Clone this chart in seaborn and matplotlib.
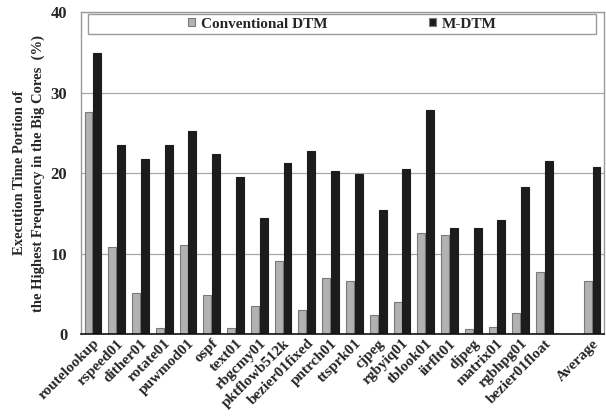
import matplotlib
matplotlib.use("Agg")
import matplotlib.pyplot as plt
from matplotlib.patches import Rectangle
import seaborn as sns
import pandas as pd

benchmarks = ["routelookup", "rspeed01", "dither01", "rotate01", "puwmod01", "ospf",
              "text01", "rbgcmy01", "pktflowb512k", "bezier01fixed", "pntrch01",
              "ttsprk01", "cjpeg", "rgbyiq01", "tblook01", "iirflt01", "djpeg",
              "matrix01", "rgbhpg01", "bezier01float", "Average"]
conventional = [27.6, 10.8, 5.1, 0.75, 11.1, 4.9, 0.75, 3.5, 9.1, 3.0, 6.9,
                6.6, 2.4, 3.95, 12.6, 12.3, 0.6, 0.85, 2.6, 7.7, 6.6]
mdtm = [34.9, 23.5, 21.8, 23.5, 25.2, 22.4, 19.55, 14.45, 21.2, 22.7, 20.3,
        19.9, 15.4, 20.5, 27.8, 13.2, 13.2, 14.2, 18.3, 21.5, 20.7]
series = ["Conventional DTM", "M-DTM"]

# empty slot separates the benchmarks from the average
order = benchmarks[:-1] + [" "] + benchmarks[-1:]

df = pd.DataFrame({
    "bench": benchmarks * 2,
    "value": conventional + mdtm,
    "method": [series[0]] * len(benchmarks) + [series[1]] * len(benchmarks),
})

sns.set_style("white")
plt.rcParams["font.family"] = ["Liberation Serif", "DejaVu Serif"]
plt.rcParams["font.weight"] = "bold"

fig = plt.figure(figsize=(6.06, 4.17), dpi=100)
ax = fig.add_axes([0.1337, 0.199, 0.863, 0.772])

sns.barplot(data=df, x="bench", y="value", hue="method", order=order,
            hue_order=series, palette=["#b3b1b1", "#1c1c1c"],
            width=0.74, gap=0.1, edgecolor="#7a7a7a", linewidth=0.8,
            ax=ax, legend=True)
for bar in ax.containers[1]:
    bar.set_edgecolor("#1c1c1c")

ax.set_ylim(0, 40)
ax.set_yticks([0, 10, 20, 30, 40])
ax.set_xlim(-0.5, len(order) - 0.5)
ax.yaxis.grid(True, color="#a8a8a8", linewidth=0.9)
ax.set_axisbelow(True)
ax.tick_params(axis="both", length=0)
ax.tick_params(axis="y", labelsize=12, pad=10)
for lab in ax.get_yticklabels():
    lab.set_fontweight("bold")
ax.set_xticks(range(len(order)))
ax.set_xticklabels(order, rotation=45, ha="right", rotation_mode="anchor",
                   fontsize=11, fontweight="bold")
ax.tick_params(axis="x", pad=2)

for side in ["top", "left", "right"]:
    ax.spines[side].set_color("#9a9a9a")
    ax.spines[side].set_linewidth(1.0)
ax.spines["bottom"].set_color("#111111")
ax.spines["bottom"].set_linewidth(1.2)

ax.set_xlabel("")
ax.set_ylabel("Execution Time Portion of\nthe Highest Frequency in the Big Cores  (%)",
              fontsize=10.5, fontweight="bold", labelpad=4, linespacing=1.5)

# legend: centred entries inside a full-width framed strip
handles, labels = ax.get_legend_handles_labels()
leg = ax.legend(handles, labels, ncol=2, loc="center",
                bbox_to_anchor=(0.5, 0.962), frameon=False,
                prop={"weight": "bold", "size": 11}, handlelength=0.45,
                handleheight=0.45, handletextpad=0.4, columnspacing=6.6,
                borderpad=0.0)
for h in leg.legend_handles:
    h.set_linewidth(0.8)
ax.add_patch(Rectangle((0.0128, 0.932), 0.9725, 0.062, transform=ax.transAxes,
                       facecolor="white", edgecolor="#9a9a9a", linewidth=1.0,
                       zorder=4))
leg.set_zorder(5)

fig.savefig("out.png", dpi=100)
